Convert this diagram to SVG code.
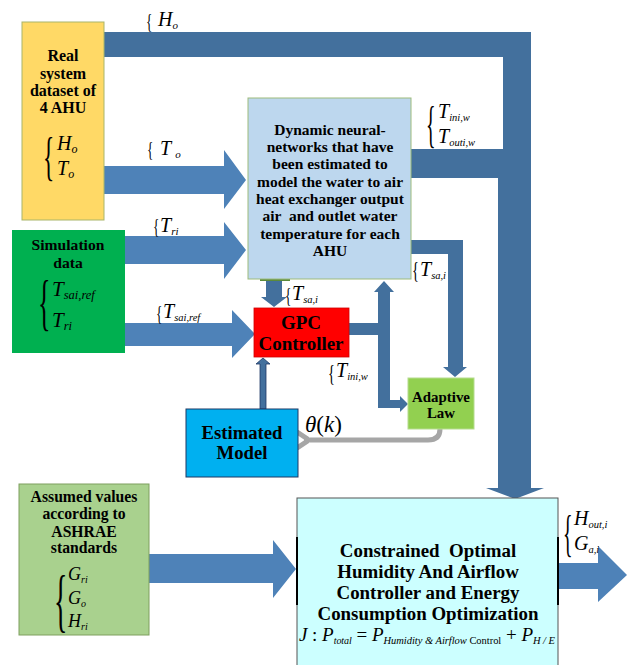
<svg xmlns="http://www.w3.org/2000/svg" width="635" height="665" viewBox="0 0 635 665">
<defs>
<style>
.t{font-family:"Liberation Serif","Times New Roman",serif;font-weight:bold;fill:#000;text-anchor:middle}
.m{font-family:"Liberation Serif","Times New Roman",serif;font-style:italic;fill:#000}
.br{font-family:"Liberation Serif","Times New Roman",serif;fill:#000}
.big{fill:#4E82B8}
.dk{fill:#43709D}
</style>
<marker id="ga" markerWidth="4" markerHeight="4" refX="1" refY="2" orient="auto" markerUnits="strokeWidth">
<path d="M3,0 L0,2 L3,4" fill="none" stroke="#A6A6A6" stroke-width="1"/>
</marker>
</defs>
<rect width="635" height="665" fill="#fff"/>

<g id="connectors">
<polygon class="dk" points="104,32 531,32 531,488 544,488 515,499 486,488 498,488 498,178 411,178 411,149 503,149 503,57 104,57"/>
<polygon class="big" points="104,166 224,166 224,150 246,180 224,209 224,194 104,194"/>
<polygon class="big" points="125,236 224,236 224,222 246,250 224,279 224,264 125,264"/>
<polygon class="big" points="125,323 232,323 232,310 255,334 232,358 232,346 125,346"/>
<polygon class="big" points="149,554 273,554 273,540 296,569 273,598 273,583 149,583"/>
<polygon class="big" points="558,563 598,563 598,546 627,575 598,602 598,589 558,589"/>
<polygon class="dk" points="411,240 463,240 463,367 467,367 455,377 443,367 448,367 448,254 411,254"/>
<polygon class="dk" points="266,280 282,280 282,297 287,297 274,307 261,297 266,297"/>
<polygon class="dk" points="349,323 378,323 378,292 374,292 384,281 394,292 390,292 390,400 400,400 400,396 408,404 400,412 400,408 378,408 378,335 349,335"/>
<polygon class="dk" points="260,409 266,409 266,364 270,364 263,358 256,364 260,364" stroke="#1F3864" stroke-width="0.8"/>
<path d="M440,429 Q440,440 428,440 L304,440" fill="none" stroke="#A6A6A6" stroke-width="5" marker-end="url(#ga)"/>
<rect x="260" y="278" width="30" height="3" fill="#5B8A3A"/>
</g>

<g id="real-system">
<rect x="22" y="22" width="82" height="198" fill="#FFD966" stroke="#A9B56A" stroke-width="1"/>
<text class="t" x="63" y="60.5" font-size="16">Real</text>
<text class="t" x="63" y="78.5" font-size="16">system</text>
<text class="t" x="63" y="95.5" font-size="16">dataset of</text>
<text class="t" x="63" y="112.5" font-size="16">4 AHU</text>
<text class="br" transform="translate(43,174) scale(0.45,1)" font-size="52">{</text>
<text class="m" x="57" y="150" font-size="20">H<tspan font-size="12" dy="3">o</tspan></text>
<text class="m" x="57" y="175" font-size="20">T<tspan font-size="12" dy="3">o</tspan></text>
</g>

<g id="dnn">
<rect x="248" y="98" width="163" height="181" fill="#BDD7EE" stroke="#9DBB7D" stroke-width="1"/>
<text class="t" x="330" y="134.5" font-size="15.5">Dynamic neural-</text>
<text class="t" x="330" y="151.5" font-size="15.5">networks that have</text>
<text class="t" x="330" y="168.5" font-size="15.5">been estimated to</text>
<text class="t" x="330" y="186.5" font-size="15.5">model the water to air</text>
<text class="t" x="330" y="203.5" font-size="15.5">heat exchanger output</text>
<text class="t" x="330" y="220.5" font-size="15.5" xml:space="preserve">air  and outlet water</text>
<text class="t" x="330" y="238.5" font-size="15.5">temperature for each</text>
<text class="t" x="330" y="255.5" font-size="15.5">AHU</text>
</g>

<g id="simulation">
<rect x="12" y="230" width="113" height="123" fill="#00B050"/>
<text class="t" x="68" y="249.5" font-size="15.6">Simulation</text>
<text class="t" x="68" y="267.5" font-size="15.6">data</text>
<text class="br" transform="translate(38,323) scale(0.42,1)" font-size="62">{</text>
<text class="m" x="52" y="296" font-size="21">T<tspan font-size="12.5" dy="3">sai,ref</tspan></text>
<text class="m" x="52" y="327" font-size="21">T<tspan font-size="12.5" dy="3">ri</tspan></text>
</g>

<g id="gpc">
<rect x="254" y="308" width="95" height="49" fill="#FF0000" stroke="#D00000" stroke-width="0.8"/>
<text class="t" x="301" y="328.5" font-size="19">GPC</text>
<text class="t" x="301" y="349.5" font-size="19">Controller</text>
</g>

<g id="adaptive-law">
<rect x="408" y="378" width="66" height="51" fill="#92D050" stroke="#B5DC8E" stroke-width="1"/>
<text class="t" x="441" y="402" font-size="14.9">Adaptive</text>
<text class="t" x="441" y="418" font-size="14.9">Law</text>
</g>

<g id="estimated-model">
<rect x="186" y="409" width="112" height="68" fill="#00B0F0" stroke="#1F3864" stroke-width="1"/>
<text class="t" x="242" y="438.5" font-size="18.7">Estimated</text>
<text class="t" x="242" y="458.5" font-size="18.7">Model</text>
</g>

<g id="assumed">
<rect x="19" y="484" width="130" height="151" fill="#A9D18E" stroke="#7E9F5E" stroke-width="1"/>
<text class="t" x="84" y="501.5" font-size="15.7">Assumed values</text>
<text class="t" x="84" y="518.5" font-size="15.7">according to</text>
<text class="t" x="84" y="536.5" font-size="15.7">ASHRAE</text>
<text class="t" x="84" y="552.5" font-size="15.7">standards</text>
<text class="br" transform="translate(54,624) scale(0.4,1)" font-size="70">{</text>
<text class="m" x="68" y="580" font-size="18">G<tspan font-size="10" dy="3">ri</tspan></text>
<text class="m" x="68" y="604" font-size="18">G<tspan font-size="10" dy="3">o</tspan></text>
<text class="m" x="68" y="627" font-size="18">H<tspan font-size="10" dy="3">ri</tspan></text>
</g>

<g id="constrained">
<rect x="297" y="498" width="261" height="170" fill="#CCFFFF" stroke="#555" stroke-width="1"/>
<rect x="296" y="537" width="2" height="68" fill="#000"/>
<rect x="557" y="537" width="2" height="68" fill="#000"/>
<text class="t" x="428" y="557" font-size="18.9" xml:space="preserve">Constrained  Optimal</text>
<text class="t" x="428" y="578" font-size="18.9">Humidity And Airflow</text>
<text class="t" x="428" y="599" font-size="18.9">Controller and Energy</text>
<text class="t" x="428" y="620" font-size="18.9">Consumption Optimization</text>
<text class="m" x="299" y="641" font-size="19" textLength="256" lengthAdjust="spacing">J<tspan font-style="normal"> : </tspan>P<tspan font-size="10" dy="3">total</tspan><tspan dy="-3" font-style="normal"> = </tspan>P<tspan font-size="10.5" dy="3">Humidity  &amp;  Airflow <tspan font-style="normal">Control</tspan></tspan><tspan dy="-3" font-style="normal"> + </tspan>P<tspan font-size="10.5" dy="3">H / E</tspan></text>
</g>

<g id="labels">
<text class="br" x="146" y="28" font-size="22" transform="translate(146,0) scale(0.6,1) translate(-146,0)">{</text>
<text class="m" x="158" y="26" font-size="20">H<tspan font-size="11" dy="3">o</tspan></text>
<text class="br" x="147" y="156" font-size="22" transform="translate(147,0) scale(0.6,1) translate(-147,0)">{</text>
<text class="m" x="160" y="155" font-size="20">T<tspan font-size="11" dy="3" dx="4">o</tspan></text>
<text class="br" x="153" y="233" font-size="22" transform="translate(153,0) scale(0.6,1) translate(-153,0)">{</text>
<text class="m" x="160" y="232" font-size="20">T<tspan font-size="11" dy="3">ri</tspan></text>
<text class="br" x="156" y="320" font-size="22" transform="translate(156,0) scale(0.6,1) translate(-156,0)">{</text>
<text class="m" x="163" y="318" font-size="20">T<tspan font-size="10.5" dy="3">sai,ref</tspan></text>
<text class="br" x="285" y="302" font-size="22" transform="translate(285,0) scale(0.6,1) translate(-285,0)">{</text>
<text class="m" x="292" y="300" font-size="20">T<tspan font-size="10.5" dy="3">sa,i</tspan></text>
<text class="br" x="328" y="381" font-size="24" transform="translate(328,0) scale(0.6,1) translate(-328,0)">{</text>
<text class="m" x="336" y="377" font-size="20">T<tspan font-size="10.5" dy="3">ini,w</tspan></text>
<text class="br" transform="translate(426,141) scale(0.4,1)" font-size="50">{</text>
<text class="m" x="438" y="118" font-size="20">T<tspan font-size="10.5" dy="3">ini,w</tspan></text>
<text class="m" x="438" y="143" font-size="20">T<tspan font-size="10.5" dy="3">outi,w</tspan></text>
<text class="br" x="412" y="278" font-size="24" transform="translate(412,0) scale(0.6,1) translate(-412,0)">{</text>
<text class="m" x="420" y="276" font-size="20">T<tspan font-size="10.5" dy="3">sa,i</tspan></text>
<text class="m" x="305" y="432" font-size="23">θ<tspan font-style="normal">(</tspan>k<tspan font-style="normal">)</tspan></text>
<text class="br" transform="translate(563,550) scale(0.4,1)" font-size="50">{</text>
<text class="m" x="574" y="525" font-size="20">H<tspan font-size="10.5" dy="3">out,i</tspan></text>
<text class="m" x="574" y="550" font-size="20">G<tspan font-size="10.5" dy="3">a,i</tspan></text>
</g>
</svg>
